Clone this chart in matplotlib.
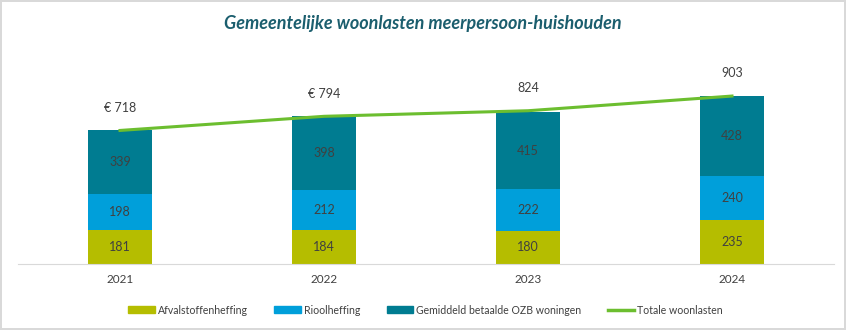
import numpy as np
import matplotlib
matplotlib.use("Agg")
import matplotlib.pyplot as plt
from matplotlib.patches import Patch
from matplotlib.lines import Line2D

years = ["2021", "2022", "2023", "2024"]
afval = [181, 184, 180, 235]
riool = [198, 212, 222, 240]
ozb = [339, 398, 415, 428]
totaal = [718, 794, 824, 903]
totaal_lbl = ["€ 718", "€ 794", "824", "903"]

C_AFV, C_RIO, C_OZB, C_LINE = "#B5BD00", "#009FDA", "#007C91", "#6CBE2F"
TXT = "#404040"

plt.rcParams["font.family"] = ["Lato", "DejaVu Sans"]
fig = plt.figure(figsize=(8.46, 3.30), dpi=100)
fig.patch.set_edgecolor("#D9D9D9"); fig.patch.set_linewidth(1.5)
ax = fig.add_axes([18/846, 66/330, 816/846, 186/330])

x = np.arange(len(years)); w = 0.314
b1 = ax.bar(x, afval, w, color=C_AFV)
b2 = ax.bar(x, riool, w, bottom=afval, color=C_RIO)
bot3 = np.array(afval) + np.array(riool)
b3 = ax.bar(x, ozb, w, bottom=bot3, color=C_OZB)
for vals, bot in [(afval, np.zeros(4)), (riool, np.array(afval)), (ozb, bot3)]:
    for xi, v, b in zip(x, vals, bot):
        ax.text(xi, b + v/2, str(v), ha="center", va="center", fontsize=9, color=TXT)
ax.plot(x, totaal, color=C_LINE, lw=2.2)
for xi, v, s in zip(x, totaal, totaal_lbl):
    ax.text(xi, v + 122, s, ha="center", va="center", fontsize=9, color=TXT)

ax.set_xlim(-0.5, 3.5); ax.set_ylim(0, 1000)
ax.set_xticks(x, years, fontsize=8.5, color=TXT)
ax.tick_params(axis="x", length=0, pad=7)
ax.set_yticks([])
for s in ["top", "right", "left"]:
    ax.spines[s].set_visible(False)
ax.spines["bottom"].set_color("#D9D9D9")

fig.text(0.5, 0.928, "Gemeentelijke woonlasten meerpersoon-huishouden", ha="center", va="center",
         fontsize=13, fontweight="bold", fontstyle="italic", color="#1B5E6E")

handles = [Patch(color=C_AFV), Patch(color=C_RIO), Patch(color=C_OZB), Line2D([], [], color=C_LINE, lw=2.5)]
labels = ["Afvalstoffenheffing", "Rioolheffing", "Gemiddeld betaalde OZB woningen", "Totale woonlasten"]
leg = fig.legend(handles, labels, loc="center", bbox_to_anchor=(425.5/846, 20/330), ncol=4, frameon=False,
                 fontsize=7.6, columnspacing=2.5, handlelength=2.5, handleheight=0.65, handletextpad=0.3)
for t in leg.get_texts():
    t.set_color(TXT)

fig.savefig("out.png", dpi=100)
